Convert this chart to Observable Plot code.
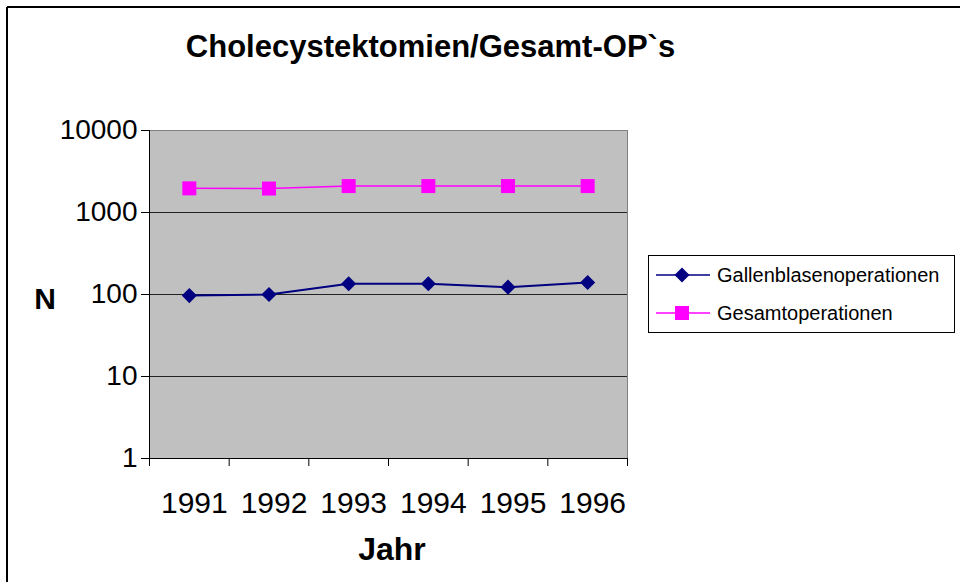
<!DOCTYPE html>
<html>
<head>
<meta charset="utf-8">
<script src="https://cdn.jsdelivr.net/npm/d3@7"></script>
<script src="https://cdn.jsdelivr.net/npm/@observablehq/plot@0.6"></script>
<style>
  html, body { margin: 0; padding: 0; background: #fff; }
  #chart { width: 960px; height: 582px; overflow: hidden; }
</style>
</head>
<body>
<div id="chart"></div>
<script>
const years = [1991, 1992, 1993, 1994, 1995, 1996];
const galleValues = [97, 100, 135, 135, 123, 140];
const gesamtValues = [1970, 1960, 2100, 2100, 2100, 2100];
const yTicks = [1, 10, 100, 1000, 10000];
const seriesNames = ["Gallenblasenoperationen", "Gesamtoperationen"];
const titleText = "Cholecystektomien/Gesamt-OP`s";
const xTitle = "Jahr";
const yTitle = "N";

const galle = years.map((y, i) => ({year: y, value: galleValues[i]}));
const gesamt = years.map((y, i) => ({year: y, value: gesamtValues[i]}));
const xDomain = [years[0] - 0.5, years[years.length - 1] + 0.5];
const boundaries = years.map(y => y - 0.5).concat([years[years.length - 1] + 0.5]);
const innerGrid = yTicks.slice(1, -1);

const FONT = "'Liberation Sans', Arial, Helvetica, sans-serif";

const svg = Plot.plot({
  width: 960,
  height: 582,
  marginLeft: 149,
  marginRight: 333,
  marginTop: 130,
  marginBottom: 124,
  style: {fontFamily: FONT, fontSize: "28px", color: "#000", background: "transparent"},
  x: {type: "linear", domain: xDomain},
  y: {type: "log", domain: [yTicks[0], yTicks[yTicks.length - 1]]},
  marks: [
    Plot.frame({fill: "#c0c0c0", stroke: "#808080"}),
    Plot.ruleY(innerGrid, {stroke: "#222", strokeWidth: 1}),
    Plot.ruleX([xDomain[0]], {stroke: "#000", strokeWidth: 1}),
    Plot.ruleY([yTicks[0]], {stroke: "#000", strokeWidth: 1}),
    Plot.axisY({ticks: yTicks, tickSize: 8, tickPadding: 4, tickFormat: d => String(d), label: null}),
    Plot.axisX({ticks: boundaries, tickSize: 8, tickFormat: () => "", label: null}),
    Plot.axisX({ticks: years, tickSize: 0, tickPadding: 33, dx: 5, fontSize: 30, tickFormat: d => String(d), label: null}),
    Plot.line(gesamt, {x: "year", y: "value", stroke: "#ff00ff", strokeWidth: 1.5}),
    Plot.dot(gesamt, {x: "year", y: "value", symbol: "square", r: 7.9, fill: "#ff00ff", stroke: "none"}),
    Plot.line(galle, {x: "year", y: "value", stroke: "#000080", strokeWidth: 2}),
    Plot.dot(galle, {x: "year", y: "value", symbol: "diamond2", r: 6.8, fill: "#000080", stroke: "none"})
  ]
});

const s = d3.select(svg);
// outer border (top and left)
s.append("line").attr("x1", 7).attr("x2", 960).attr("y1", 7).attr("y2", 7)
  .attr("stroke", "#000").attr("stroke-width", 2);
s.append("line").attr("x1", 7).attr("x2", 7).attr("y1", 7).attr("y2", 582)
  .attr("stroke", "#000").attr("stroke-width", 2);

// title and axis titles
s.append("text").text(titleText).attr("x", 430.5).attr("y", 57)
  .attr("text-anchor", "middle").attr("font-family", FONT).attr("font-size", 31).attr("font-weight", "bold");
s.append("text").text(yTitle).attr("x", 45).attr("y", 309)
  .attr("text-anchor", "middle").attr("font-family", FONT).attr("font-size", 30).attr("font-weight", "bold");
s.append("text").text(xTitle).attr("x", 392).attr("y", 560)
  .attr("text-anchor", "middle").attr("font-family", FONT).attr("font-size", 32).attr("font-weight", "bold");

// legend
const lg = s.append("g");
lg.append("rect").attr("x", 648.5).attr("y", 255.5).attr("width", 306).attr("height", 77)
  .attr("fill", "#fff").attr("stroke", "#000").attr("stroke-width", 1);
const legendItems = [
  {name: seriesNames[0], color: "#000080", symbol: d3.symbolDiamond2, size: 144, y: 275},
  {name: seriesNames[1], color: "#ff00ff", symbol: d3.symbolSquare, size: 196, y: 313}
];
legendItems.forEach(it => {
  lg.append("line").attr("x1", 656).attr("x2", 710).attr("y1", it.y).attr("y2", it.y)
    .attr("stroke", it.color).attr("stroke-width", 1.5);
  lg.append("path").attr("d", d3.symbol(it.symbol, it.size)())
    .attr("transform", `translate(682,${it.y})`).attr("fill", it.color);
  lg.append("text").text(it.name).attr("x", 717).attr("y", it.y + 7)
    .attr("text-anchor", "start")
    .attr("font-family", FONT).attr("font-size", 20).attr("fill", "#000");
});

document.getElementById("chart").appendChild(svg);
</script>
</body>
</html>
